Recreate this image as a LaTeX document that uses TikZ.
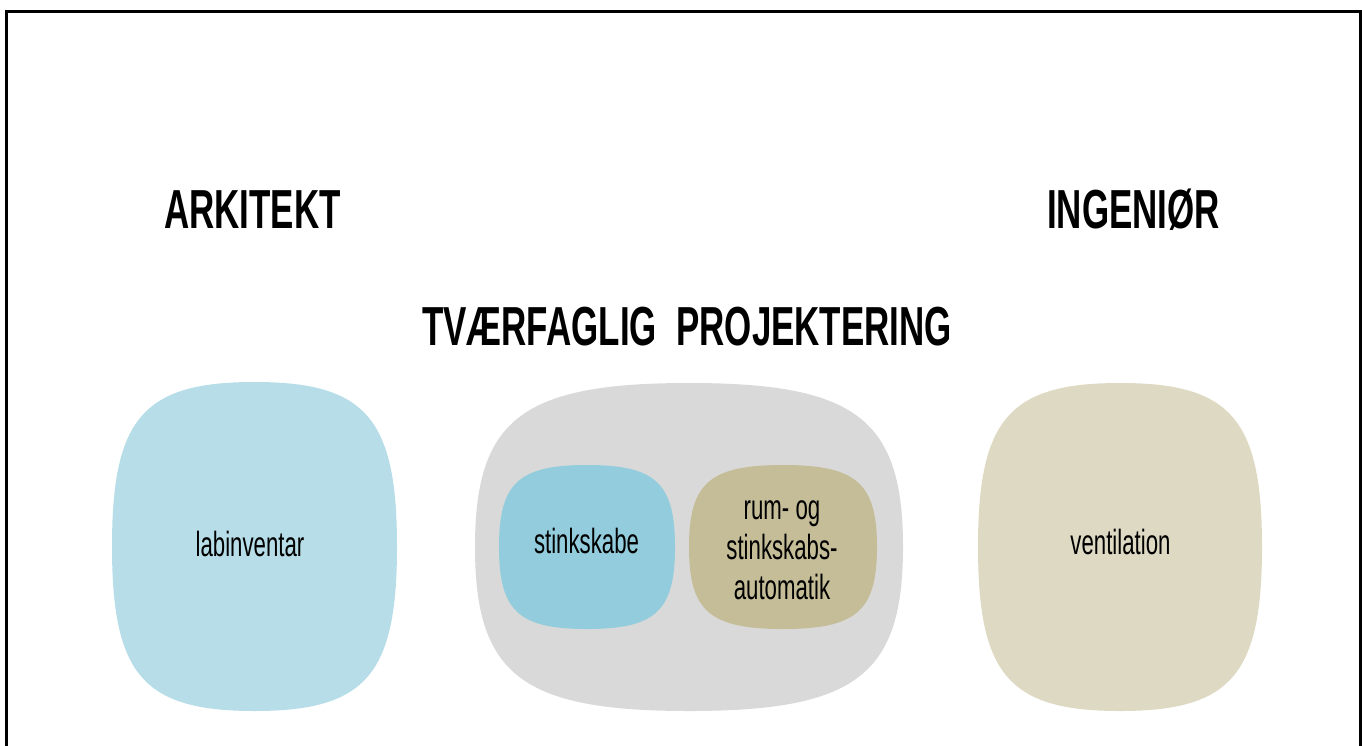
\documentclass[tikz,border=0pt]{standalone}
\usepackage{fontspec}
\setmainfont{Liberation Sans}
\definecolor{lblue}{HTML}{B7DEE8}
\definecolor{lgray}{HTML}{D9D9D9}
\definecolor{lbeige}{HTML}{DDD9C3}
\definecolor{mblue}{HTML}{93CDDD}
\definecolor{mtan}{HTML}{C4BD97}
\def\kk{0.78}
% #1 cx, #2 cy, #3 half width, #4 half height, #5 colour
\newcommand{\blobshape}[5]{%
  \begin{scope}[shift={(#1,#2)}]
    \fill[#5] (#3,0) .. controls (#3,{\kk*#4}) and ({\kk*#3},#4) .. (0,#4)
      .. controls ({-\kk*#3},#4) and (-#3,{\kk*#4}) .. (-#3,0)
      .. controls (-#3,{-\kk*#4}) and ({-\kk*#3},-#4) .. (0,-#4)
      .. controls ({\kk*#3},-#4) and (#3,{-\kk*#4}) .. cycle;
  \end{scope}}
\begin{document}
\begin{tikzpicture}[x=1pt,y=-1pt,
  titletext/.style={font=\bfseries\fontsize{55}{60}\selectfont, xscale=0.635, anchor=base, inner sep=0pt},
  labeltext/.style={font=\fontsize{35}{40}\selectfont, xscale=0.635, anchor=base, inner sep=0pt, align=center},
  frameline/.style={line width=3.5pt, draw=black, line join=miter}]
\useasboundingbox (0,0) rectangle (1362,745);
\fill[white] (0,0) rectangle (1362,745);
% frame
\coordinate (fbl) at (6.3,760);
\coordinate (ftl) at (6.3,11.7);
\coordinate (ftr) at (1360.5,11.7);
\coordinate (fbr) at (1360.5,760);
\draw[frameline] (fbl) -- (ftl) -- (ftr) -- (fbr);
% shapes
\blobshape{254.5}{546.5}{142.5}{164.5}{lblue}
\blobshape{689}{547}{214}{164}{lgray}
\blobshape{1120}{547}{142}{164}{lbeige}
\blobshape{587}{547}{88}{82}{mblue}
\blobshape{783}{547}{94}{82}{mtan}
% titles
\node[titletext] (ark) at (252.5,228) {ARKITEKT};
\node[titletext] (ing) at (1133.5,228) {INGENIØR};
\node[titletext] (tvf) at (687,345) {TVÆRFAGLIG\ \ PROJEKTERING};
% labels
\node[labeltext] (lab) at (250,556) {labinventar};
\node[labeltext] (stk) at (586.5,553) {stinkskabe};
\node[labeltext] (ven) at (1120.5,554) {ventilation};
\node[labeltext, anchor=center] (rum) at (782,550) {rum- og\\stinkskabs-\\automatik};
\end{tikzpicture}
\end{document}
